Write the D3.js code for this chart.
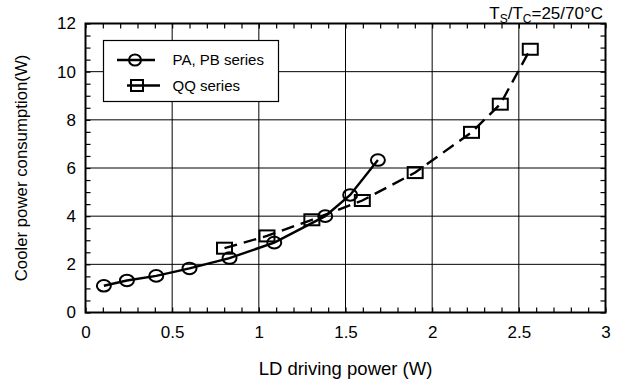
<!DOCTYPE html>
<html><head><meta charset="utf-8">
<script src="https://cdn.jsdelivr.net/npm/d3@7"></script>
<style>body{margin:0;background:#fff}svg{display:block;font-family:"Liberation Sans",Arial,sans-serif}</style>
</head><body>
<script>
const paX = [0.106, 0.239, 0.408, 0.600, 0.831, 1.089, 1.383, 1.527, 1.687];
const paY = [1.11, 1.33, 1.52, 1.83, 2.26, 2.90, 4.00, 4.88, 6.33];
const qqX = [0.802, 1.047, 1.306, 1.597, 1.902, 2.227, 2.393, 2.566];
const qqY = [2.67, 3.18, 3.85, 4.65, 5.81, 7.48, 8.65, 10.93];
const xTicks = [0, 0.5, 1, 1.5, 2, 2.5, 3];
const xTickLabels = ["0", "0.5", "1", "1.5", "2", "2.5", "3"];
const yTicks = [0, 2, 4, 6, 8, 10, 12];
const seriesNames = ["PA, PB series", "QQ series"];

const W = 618, H = 385;
const m = {l: 85.5, r: 12.5, t: 23.5, b: 72.5};
const FF = "Liberation Sans, Arial, sans-serif";
const svg = d3.select("body").append("svg").attr("width", W).attr("height", H);
const x = d3.scaleLinear().domain([0, 3]).range([m.l, W - m.r]);
const y = d3.scaleLinear().domain([0, 12]).range([H - m.b, m.t]);

// grid
svg.append("g").selectAll("line").data(xTicks.slice(1, -1)).join("line")
  .attr("x1", d => x(d)).attr("x2", d => x(d)).attr("y1", y(0)).attr("y2", y(12))
  .attr("stroke", "#000").attr("stroke-width", 1);
svg.append("g").selectAll("line").data(yTicks.slice(1, -1)).join("line")
  .attr("y1", d => y(d)).attr("y2", d => y(d)).attr("x1", x(0)).attr("x2", x(3))
  .attr("stroke", "#000").attr("stroke-width", 1);

// axes with inward ticks
const xMinor = d3.range(0, 31).map(i => i / 10);
const yMinor = d3.range(0, 25).map(i => i / 2);
function styleAxis(g) { g.select(".domain").remove(); g.selectAll("line").attr("stroke-width", 1.2); }
svg.append("g").attr("transform", `translate(0,${y(0)})`)
  .call(d3.axisBottom(x).tickValues(xMinor).tickSize(-5).tickFormat(""))
  .call(styleAxis);
svg.append("g").attr("transform", `translate(0,${y(12)})`)
  .call(d3.axisTop(x).tickValues(xMinor).tickSize(-5).tickFormat(""))
  .call(styleAxis);
svg.append("g").attr("transform", `translate(${x(0)},0)`)
  .call(d3.axisLeft(y).tickValues(yMinor).tickSize(-5).tickFormat(""))
  .call(styleAxis);
svg.append("g").attr("transform", `translate(${x(3)},0)`)
  .call(d3.axisRight(y).tickValues(yMinor).tickSize(-5).tickFormat(""))
  .call(styleAxis);

// tick labels
svg.append("g").attr("transform", `translate(0,${y(0)})`)
  .call(d3.axisBottom(x).tickValues(xTicks).tickSize(0).tickPadding(13).tickFormat((d, i) => xTickLabels[i]))
  .call(g => { g.select(".domain").remove(); g.selectAll("text").attr("font-size", 17).attr("fill", "#000").attr("font-family", FF); });
svg.append("g").attr("transform", `translate(${x(0)},0)`)
  .call(d3.axisLeft(y).tickValues(yTicks).tickSize(0).tickPadding(9.5))
  .call(g => { g.select(".domain").remove(); g.selectAll("text").attr("font-size", 17).attr("fill", "#000").attr("font-family", FF); });

// frame
svg.append("rect").attr("x", x(0)).attr("y", y(12)).attr("width", x(3) - x(0)).attr("height", y(0) - y(12))
  .attr("fill", "none").attr("stroke", "#000").attr("stroke-width", 2);

// titles
svg.append("text").attr("x", x(1.5)).attr("y", 375).attr("text-anchor", "middle")
  .attr("font-size", 18.5).text("LD driving power (W)");
svg.append("text").attr("transform", `translate(27,${(y(0) + y(12)) / 2}) rotate(-90)`)
  .attr("text-anchor", "middle").attr("font-size", 16.8).text("Cooler power consumption(W)");
const ann = svg.append("text").attr("x", 603).attr("y", 18.5).attr("text-anchor", "end").attr("font-size", 17);
ann.append("tspan").text("T");
ann.append("tspan").attr("font-size", 12).attr("dy", 4).text("S");
ann.append("tspan").attr("dy", -4).text("/T");
ann.append("tspan").attr("font-size", 12).attr("dy", 4).text("C");
ann.append("tspan").attr("dy", -4).text("=25/70°C");

// series
const pa = paX.map((d, i) => [d, paY[i]]);
const qq = qqX.map((d, i) => [d, qqY[i]]);
const line = d3.line().x(d => x(d[0])).y(d => y(d[1]));
svg.append("path").datum(qq).attr("d", line).attr("fill", "none").attr("stroke", "#000")
  .attr("stroke-width", 2.4).attr("stroke-dasharray", "13,7");
svg.append("path").datum(pa).attr("d", line).attr("fill", "none").attr("stroke", "#000")
  .attr("stroke-width", 2.4);
svg.append("g").selectAll("rect").data(qq).join("rect")
  .attr("x", d => x(d[0]) - 7.5).attr("y", d => y(d[1]) - 5.5).attr("width", 15).attr("height", 11)
  .attr("fill", "none").attr("stroke", "#000").attr("stroke-width", 2);
svg.append("g").selectAll("ellipse").data(pa).join("ellipse")
  .attr("cx", d => x(d[0])).attr("cy", d => y(d[1])).attr("rx", 7).attr("ry", 5.8)
  .attr("fill", "none").attr("stroke", "#000").attr("stroke-width", 2);

// legend
const lg = svg.append("g");
lg.append("rect").attr("x", 103.5).attr("y", 40.5).attr("width", 175).attr("height", 61)
  .attr("fill", "#fff").attr("stroke", "#000").attr("stroke-width", 1.2);
lg.append("line").attr("x1", 117).attr("x2", 155).attr("y1", 60).attr("y2", 60).attr("stroke", "#000").attr("stroke-width", 2.4);
lg.append("ellipse").attr("cx", 135).attr("cy", 60).attr("rx", 6).attr("ry", 5.5).attr("fill", "none").attr("stroke", "#000").attr("stroke-width", 2);
lg.append("line").attr("x1", 127).attr("x2", 160).attr("y1", 85.5).attr("y2", 85.5).attr("stroke", "#000").attr("stroke-width", 2.4);
lg.append("rect").attr("x", 131).attr("y", 80).attr("width", 12).attr("height", 11).attr("fill", "none").attr("stroke", "#000").attr("stroke-width", 2);
lg.selectAll("text.lt").data(seriesNames).join("text").attr("class", "lt")
  .attr("x", 172.5).attr("y", (d, i) => 65 + i * 25.5).attr("font-size", 15).text(d => d);
</script>
</body></html>
